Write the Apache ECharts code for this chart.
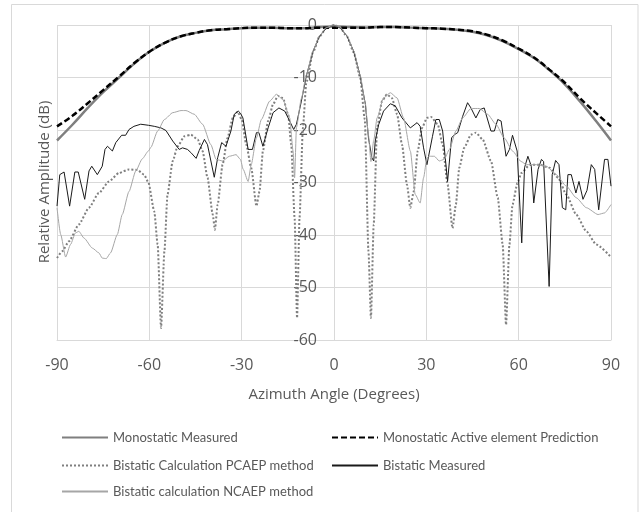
<!DOCTYPE html>
<html>
<head>
<meta charset="utf-8" />
<title>Azimuth pattern</title>
<script src="https://cdn.jsdelivr.net/npm/echarts@6/dist/echarts.min.js"></script>
</head>
<body style="margin:0">
<div id="main" style="width:639px;height:512px"></div>
<script>
var xTicks = [-90, -60, -30, 0, 30, 60, 90];
var yTicks = [0, -10, -20, -30, -40, -50, -60];

var seriesNames = [
    "Monostatic Measured",
    "Monostatic Active element Prediction",
    "Bistatic Calculation PCAEP method",
    "Bistatic Measured",
    "Bistatic calculation NCAEP method"
];

// [angle deg, dB]
var monoMeasured = [[-90,-22],[-85,-19],[-80,-15.8],[-75,-12.8],[-70,-10.1],[-65,-7.4],[-60,-5.1],[-55,-3.4],[-50,-2.2],[-45,-1.5],[-40,-1.0],[-35,-0.8],[-30,-0.6],[-25,-0.5],[-20,-0.5],[-15,-0.6],[-10,-0.6],[-5,-0.4],[0,-0.3],[5,-0.4],[10,-0.5],[15,-0.4],[20,-0.4],[25,-0.5],[30,-0.6],[35,-0.7],[40,-0.9],[45,-1.3],[50,-2.0],[55,-3.1],[60,-4.6],[65,-6.3],[70,-8.6],[75,-11.3],[80,-14.6],[85,-18.2],[90,-22]];

var monoPredicted = [[-90,-19.3],[-85,-17.3],[-80,-14.9],[-75,-12.4],[-70,-9.9],[-65,-7.3],[-60,-5.1],[-55,-3.4],[-50,-2.2],[-45,-1.5],[-40,-1.0],[-35,-0.8],[-30,-0.6],[-25,-0.5],[-20,-0.5],[-15,-0.6],[-10,-0.6],[-5,-0.5],[0,-0.5],[5,-0.5],[10,-0.5],[15,-0.4],[20,-0.4],[25,-0.5],[30,-0.6],[35,-0.7],[40,-0.9],[45,-1.2],[50,-1.9],[55,-3.0],[60,-4.5],[65,-6.2],[70,-8.5],[75,-11.0],[80,-14.0],[85,-16.7],[90,-19.3]];

var bistaticPCAEP = [[-90,-44.4],[-88.3,-43.1],[-86.1,-41.2],[-82.9,-38],[-79.6,-34.8],[-76.4,-32],[-73.1,-29.8],[-69.9,-28.2],[-66.6,-27.5],[-63.9,-27.6],[-61.7,-28.5],[-60.3,-30],[-58.4,-35.5],[-57.3,-41.8],[-56.2,-57.7],[-55.1,-43.1],[-54.1,-32.3],[-52.4,-25.9],[-50.8,-23.1],[-48.6,-21.2],[-46.5,-20.9],[-44.3,-21.8],[-42.7,-24],[-41.1,-29.1],[-39.4,-36.1],[-38.7,-39],[-37.8,-34.2],[-36.2,-26.6],[-34.6,-21.5],[-32.9,-17.7],[-31.3,-16.5],[-30,-18],[-28.5,-22.8],[-26.9,-27.2],[-25.2,-34.5],[-24.2,-31.7],[-23.1,-24],[-21.4,-18.3],[-19.8,-15.1],[-18.2,-13.5],[-16.6,-13.9],[-14.9,-17],[-13.9,-22.8],[-12.8,-36.7],[-12,-55.8],[-11.2,-36.7],[-10.1,-19.6],[-9,-11],[-6.8,-5.2],[-4.7,-2.2],[-2.5,-0.6],[0,0],[2,-0.5],[4.2,-2.2],[6.4,-5.2],[8.5,-10],[10,-18],[11.2,-43.1],[12,-55.8],[12.9,-38],[14,-19.6],[15.6,-14.5],[17.2,-13.2],[18.8,-13.9],[20.5,-17],[22.1,-22.8],[23.7,-30.4],[24.8,-34.8],[25.9,-31.7],[27.2,-24],[28.6,-19.6],[30.2,-17.7],[31.5,-17.5],[33.7,-18.9],[35.3,-22.8],[36.9,-30.4],[38.5,-38.7],[39.6,-34.2],[40.7,-27.2],[42.3,-23.4],[44.5,-20.9],[46.1,-20.5],[48.3,-21.8],[51,-25.9],[53.2,-32.9],[54.8,-41.8],[55.9,-57.1],[57,-41.8],[58,-34.2],[59.6,-30.1],[60.9,-28.2],[63.6,-26.6],[66.8,-26.6],[70,-27.2],[72.8,-29.1],[75.5,-32.3],[78.7,-36.1],[82,-39.3],[85.2,-41.8],[90,-44.2]];

var bistaticMeasured = [[-90,-34.5],[-89.1,-28.5],[-87.7,-28],[-85.9,-34.5],[-84.2,-28],[-83.1,-28],[-81,-33.2],[-79.6,-27.8],[-78.7,-26.9],[-76.9,-28.5],[-75.3,-26.9],[-74.4,-23.7],[-73.6,-23.1],[-72,-24],[-70.9,-22.4],[-69,-21],[-67.7,-21],[-66.6,-19.9],[-65,-19.3],[-62.8,-18.9],[-60.3,-19.1],[-58.4,-19.3],[-56.2,-19.6],[-54.6,-20.1],[-52.4,-22.1],[-50.3,-23.7],[-49.2,-23.4],[-47.6,-23.7],[-46.5,-24.3],[-44.8,-25.4],[-43.8,-23.9],[-42.1,-21.8],[-41.1,-22.8],[-38.9,-29],[-37.8,-25.3],[-36.5,-22.4],[-35.1,-23.1],[-33.5,-20.2],[-32.4,-17],[-31.1,-16.4],[-30.4,-16.8],[-29.6,-17.7],[-27.9,-23.7],[-26.5,-23.7],[-25.2,-20.5],[-24.4,-20.5],[-23.1,-23.1],[-21.4,-19.6],[-19.8,-16.7],[-17.9,-15.8],[-16,-16.4],[-14.4,-18.3],[-13.1,-19.9],[-12.2,-18.9],[-10.6,-14.5],[-9,-9.7],[-6.8,-5],[-4.7,-2.1],[-2.5,-0.6],[0,0],[2,-0.5],[4.2,-2.1],[6.4,-5],[8.5,-9.7],[10.2,-15.1],[11.2,-21.5],[12.3,-25.3],[12.9,-25.9],[13.4,-22.1],[14.5,-19],[16.1,-16.4],[18.3,-15],[19.9,-15.4],[22.1,-17.7],[24.8,-19.6],[27,-18.6],[28,-19.3],[29.1,-23.4],[30.2,-26.6],[32,-21.2],[33.1,-18],[34.2,-18],[35.3,-20.2],[36.9,-29.8],[38.2,-21.5],[39.1,-20.9],[40.2,-20.5],[41.8,-17.4],[43.4,-14.8],[44.5,-15.8],[46.1,-17.7],[47.5,-16.1],[48.8,-15.8],[51,-20.2],[52.1,-20.2],[53.2,-18],[54.3,-18.3],[55.9,-25],[57,-23.7],[58,-21],[59.5,-24],[61,-41.5],[61.9,-27.2],[63,-25],[64.1,-26.9],[64.9,-33.9],[66.3,-27.5],[67.4,-25.6],[68.1,-26],[69.9,-49.8],[70.9,-28.5],[72,-25.8],[73.1,-26.6],[74.2,-34.8],[75.3,-35.2],[76,-28.5],[77.1,-28.5],[78.6,-32],[79.6,-29.8],[80.9,-33.2],[82.2,-31.5],[83.6,-26.6],[84.7,-27.5],[86,-35.2],[87.9,-25.6],[89,-25.6],[90,-30.7]];

var bistaticNCAEP = [[-90,-34.8],[-88.8,-39.9],[-87.2,-44.2],[-85.6,-41.8],[-84,-39.6],[-82.9,-39.3],[-81.2,-40.6],[-78.5,-42.5],[-76.4,-43.4],[-75.3,-44.4],[-74,-44.5],[-72.6,-43.4],[-70.4,-39.9],[-68.8,-36.1],[-66.6,-31.7],[-64.4,-27.8],[-62.3,-25.5],[-60.3,-24],[-59.5,-23.3],[-57.3,-20.2],[-55.1,-18],[-52.4,-16.7],[-49.7,-16.3],[-48.1,-16.3],[-45.4,-17],[-42.7,-18.9],[-40,-22.8],[-38.3,-25.6],[-36.2,-25.9],[-34,-25],[-31.8,-24.7],[-30.4,-25.6],[-29.5,-27.5],[-27.9,-29.8],[-26.9,-26.6],[-25.2,-21.5],[-23.6,-18],[-20.9,-14.5],[-18.7,-13.2],[-16.6,-14.2],[-14.4,-17.7],[-13.3,-24],[-12.8,-29.1],[-12.2,-19.5],[-10.6,-14],[-9,-9.5],[-6.8,-4.9],[-4.7,-2],[-2.5,-0.5],[0,0],[2,-0.4],[4.2,-2],[6.4,-4.9],[8.5,-9.6],[10.2,-15],[11.2,-21],[12,-26],[12.9,-22],[14,-17.7],[16.1,-13.9],[18.3,-12.9],[20.5,-13.9],[22.6,-17.7],[24.8,-24],[26.4,-32.3],[28,-33.9],[29.1,-29.1],[30.2,-25.3],[31,-25],[32.6,-25],[34.2,-25.9],[35.8,-25.6],[37.5,-23.7],[39.6,-20.2],[41.8,-17.7],[44.5,-15.9],[47.2,-15.9],[49.9,-17],[52.6,-18.9],[55.3,-21.5],[58,-24],[60.8,-26],[62.5,-26.6],[65.7,-26.6],[69,-26.9],[72.2,-28.5],[75.5,-30.7],[78.7,-32.9],[82,-34.8],[85.8,-36.1],[87.9,-35.8],[90,-34.2]];

var gridColor = "#d9d9d9";
var textColor = "#595959";

var myChart = echarts.init(document.getElementById("main"));

// one legend per item so the two columns line up like the original
function legendAt(name, left, top) {
    return {
        data: [name],
        left: left,
        top: top,
        padding: 0,
        itemWidth: 46,
        itemHeight: 14,
        itemGap: 5,
        selectedMode: false,
        itemStyle: { opacity: 0 },
        textStyle: { fontFamily: "Lato", fontSize: 13, color: textColor }
    };
}

var option = {
    animation: false,
    backgroundColor: "#ffffff",
    textStyle: { fontFamily: "Open Sans" },
    grid: { left: 57, right: 28, top: 25, bottom: 172 },
    graphic: [
        {
            type: "rect",
            shape: { x: 11.5, y: 4.5, width: 626.5, height: 530 },
            style: { fill: null, stroke: gridColor, lineWidth: 1 },
            silent: true
        },
        {
            type: "text",
            x: 45,
            y: 182,
            rotation: Math.PI / 2,
            style: {
                text: "Relative Amplitude (dB)",
                fontFamily: "Open Sans",
                fontSize: 15,
                fill: textColor,
                align: "center",
                verticalAlign: "middle"
            }
        }
    ],
    legend: [
        legendAt(seriesNames[0], 61, 431),
        legendAt(seriesNames[1], 331, 431),
        legendAt(seriesNames[2], 61, 459),
        legendAt(seriesNames[3], 331, 459),
        legendAt(seriesNames[4], 61, 485)
    ],
    xAxis: {
        type: "value",
        min: xTicks[0],
        max: xTicks[xTicks.length - 1],
        interval: 30,
        name: "Azimuth Angle (Degrees)",
        nameLocation: "middle",
        nameGap: 47,
        nameTextStyle: { fontSize: 15, color: textColor },
        axisLine: { onZero: false, lineStyle: { color: gridColor } },
        axisTick: { show: false },
        axisLabel: { fontSize: 16, color: textColor, margin: 17 },
        splitLine: { lineStyle: { color: gridColor } }
    },
    yAxis: {
        type: "value",
        min: yTicks[yTicks.length - 1],
        max: yTicks[0],
        interval: 10,
        // move the axis from the left edge onto the 0 degree line
        offset: -277,
        axisLine: { show: true, onZero: false, lineStyle: { color: gridColor } },
        axisTick: { show: false },
        axisLabel: { fontSize: 16, color: textColor, margin: 17 },
        splitLine: { lineStyle: { color: gridColor } }
    },
    series: [
        {
            name: seriesNames[0],
            type: "line",
            data: monoMeasured,
            symbol: "none",
            smooth: 0.4,
            lineStyle: { color: "#7f7f7f", width: 2.5 },
            itemStyle: { color: "#7f7f7f" }
        },
        {
            name: seriesNames[1],
            type: "line",
            data: monoPredicted,
            symbol: "none",
            smooth: 0.4,
            lineStyle: { color: "#000000", width: 2.5, type: [6, 3] },
            itemStyle: { color: "#000000" }
        },
        {
            name: seriesNames[2],
            type: "line",
            data: bistaticPCAEP,
            symbol: "none",
            smooth: 0.2,
            smoothMonotone: "x",
            lineStyle: { color: "#7f7f7f", width: 2, type: [2, 2] },
            itemStyle: { color: "#7f7f7f" }
        },
        {
            name: seriesNames[3],
            type: "line",
            data: bistaticMeasured,
            symbol: "none",
            lineStyle: { color: "#1a1a1a", width: 1 },
            itemStyle: { color: "#1a1a1a" }
        },
        {
            name: seriesNames[4],
            type: "line",
            data: bistaticNCAEP,
            symbol: "none",
            smooth: 0.2,
            smoothMonotone: "x",
            lineStyle: { color: "#a6a6a6", width: 1 },
            itemStyle: { color: "#a6a6a6" }
        }
    ]
};

myChart.setOption(option);
</script>
</body>
</html>
